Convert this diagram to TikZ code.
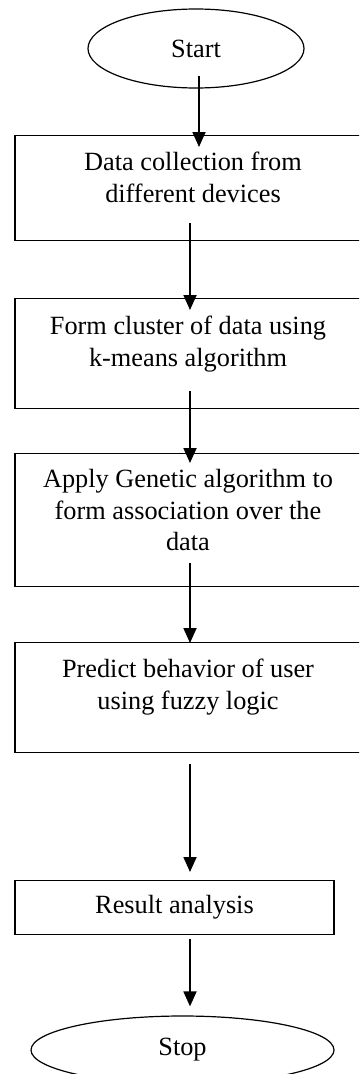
\documentclass[tikz,border=0pt]{standalone}
\usepackage{fontspec}
\setmainfont{Liberation Serif}
\usetikzlibrary{shapes.geometric,arrows.meta}
\newcommand{\boxtxt}[3]{\parbox[c][#1][t]{330pt}{\centering\vspace*{#2}#3\par}}
\tikzset{
  stepbox/.style={draw, rectangle, line width=1.3pt, inner sep=0pt, anchor=north},
  term/.style={draw, ellipse, line width=1.2pt, inner sep=0pt},
  arr/.style={line width=1.8pt, -{Triangle[length=15pt,width=13pt]}},
}
\begin{document}
\begin{tikzpicture}[x=1pt,y=1pt,font=\fontsize{26.3}{31.5}\selectfont]
\useasboundingbox (0,0) rectangle (359,-1074);
\clip (0,0) rectangle (359,-1074);
\node[term, minimum width=216pt, minimum height=79pt] (start) at (196,-48.5) {Start};
\node[stepbox, minimum width=356pt] (b1) at (193,-135) {\boxtxt{105pt}{12.9pt}{\strut Data collection from\\different devices}};
\node[stepbox, minimum width=346pt] (b2) at (188,-298) {\boxtxt{110pt}{13.9pt}{\strut Form cluster of data using\\k-means algorithm}};
\node[stepbox, minimum width=346pt] (b3) at (188,-453) {\boxtxt{133pt}{11.9pt}{\strut Apply Genetic algorithm to\\form association over the\\data}};
\node[stepbox, minimum width=346pt] (b4) at (188,-642) {\boxtxt{110pt}{12.9pt}{\strut Predict behavior of user\\using fuzzy logic}};
\node[stepbox, minimum width=319pt, minimum height=54pt] (b5) at (174.5,-880) {\parbox[c][54pt][c]{300pt}{\centering Result analysis}};
\node[term, minimum width=303pt, minimum height=68pt] (stop) at (182.5,-1050) {Stop};
\draw[arr] ([xshift=3pt,yshift=13pt]start.south) -- ([xshift=6pt,yshift=-12pt]b1.north);
\draw[arr] ([xshift=-3pt,yshift=18pt]b1.south) -- ([xshift=2pt,yshift=-12pt]b2.north);
\draw[arr] ([xshift=2pt,yshift=18pt]b2.south) -- ([xshift=2pt,yshift=-10pt]b3.north);
\draw[arr] ([xshift=2pt,yshift=24pt]b3.south) -- ([xshift=2pt,yshift=-1pt]b4.north);
\draw[arr] ([xshift=2pt,yshift=-11pt]b4.south) -- ([xshift=15.5pt,yshift=8pt]b5.north);
\draw[arr] ([xshift=15.5pt,yshift=-4pt]b5.south) -- ([xshift=7.5pt,yshift=9pt]stop.north);
\end{tikzpicture}
\end{document}
